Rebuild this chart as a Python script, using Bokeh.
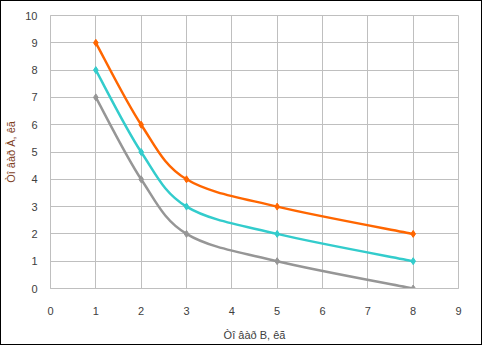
from bokeh.plotting import figure
from bokeh.embed import file_html
from bokeh.resources import INLINE
from bokeh.models import SingleIntervalTicker, Range1d

# data
x_vals = [1, 2, 3, 5, 8]
series_orange = [9, 6, 4, 3, 2]
series_teal = [8, 5, 3, 2, 1]
series_gray = [7, 4, 2, 1, 0]
colors = ["#FF6600", "#33CCCC", "#969696"]
x_title = "Òî âàð B, êã"
y_title = "Òî âàð À, êã"

p = figure(width=480, height=343, output_backend="svg", toolbar_location=None,
           x_range=Range1d(0, 9), y_range=Range1d(0, 10),
           frame_width=408, frame_height=273,
           min_border_left=49, min_border_top=14, min_border_right=23, min_border_bottom=56)
p.styles = {"border": "1px solid #000000"}
p.outline_line_color = "#BFBFBF"
p.background_fill_color = "white"
p.border_fill_color = "white"

for ax in (p.xaxis[0], p.yaxis[0]):
    ax.ticker = SingleIntervalTicker(interval=1)
    ax.major_tick_line_color = None
    ax.minor_tick_line_color = None
    ax.axis_line_color = "#BFBFBF"
    ax.major_label_text_font = "Liberation Sans"
    ax.major_label_text_font_size = "11px"
    ax.major_label_text_color = "#404040"
    ax.axis_label_text_font = "Liberation Sans"
    ax.axis_label_text_font_size = "11px"
    ax.axis_label_text_font_style = "normal"
    ax.axis_label_text_color = "#404040"

p.xaxis.axis_label = x_title
p.yaxis.axis_label = y_title
p.xaxis.major_label_standoff = 12
p.xaxis.axis_label_standoff = 11
p.yaxis.major_label_standoff = 7
p.yaxis.axis_label_standoff = 5
p.yaxis.axis_label_text_color = "#7F3F1F"

p.xgrid.grid_line_color = "#BFBFBF"
p.ygrid.grid_line_color = "#BFBFBF"


def smooth_segments(xs, ys):
    n = len(xs)
    out = {k: [] for k in ("x0", "y0", "x1", "y1", "cx0", "cy0", "cx1", "cy1")}
    for i in range(n - 1):
        ip = max(i - 1, 0)
        inn = min(i + 2, n - 1)
        out["x0"].append(xs[i]); out["y0"].append(ys[i])
        out["x1"].append(xs[i + 1]); out["y1"].append(ys[i + 1])
        out["cx0"].append(xs[i] + (xs[i + 1] - xs[ip]) / 6)
        out["cy0"].append(ys[i] + (ys[i + 1] - ys[ip]) / 6)
        out["cx1"].append(xs[i + 1] - (xs[inn] - xs[i]) / 6)
        out["cy1"].append(ys[i + 1] - (ys[inn] - ys[i]) / 6)
    return out


for ys, c in [(series_gray, colors[2]), (series_teal, colors[1]), (series_orange, colors[0])]:
    seg = smooth_segments(x_vals, ys)
    p.bezier(x0=seg["x0"], y0=seg["y0"], x1=seg["x1"], y1=seg["y1"],
             cx0=seg["cx0"], cy0=seg["cy0"], cx1=seg["cx1"], cy1=seg["cy1"],
             line_color=c, line_width=2.5)
    p.scatter(x_vals, ys, marker="diamond", size=7, fill_color=c, line_color=c)

open("out.html", "w").write(file_html(p, INLINE))
